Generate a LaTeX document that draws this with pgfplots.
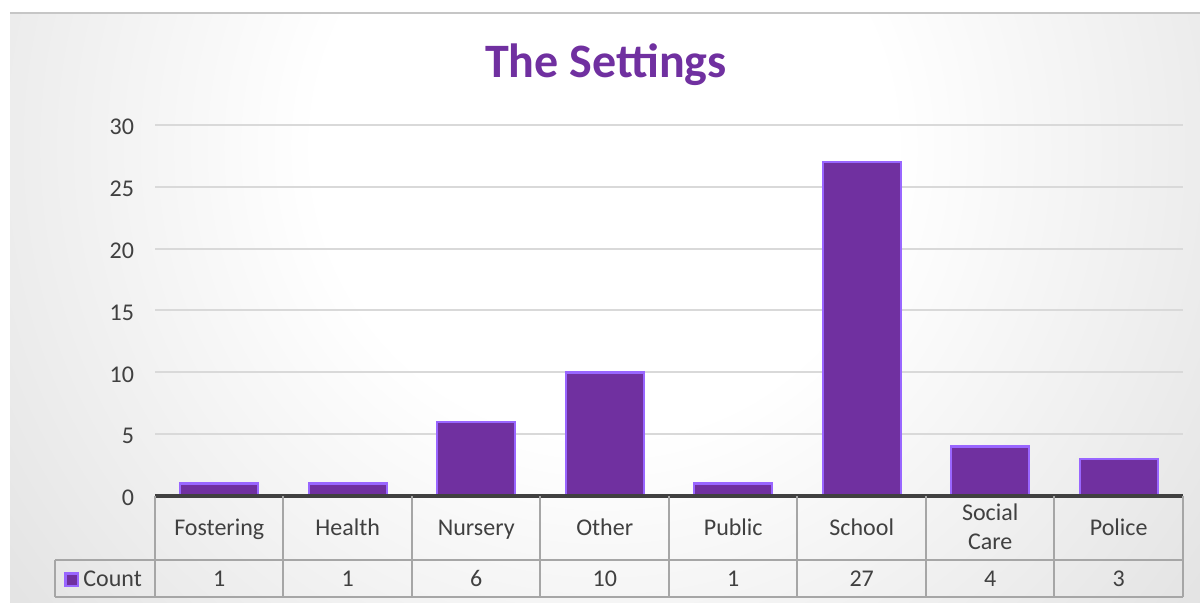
\documentclass[border=0pt]{standalone}
\usepackage{pgfplots}
\pgfplotsset{compat=1.18}
\usepackage{fontspec}
\setmainfont{Carlito}
\definecolor{barfill}{HTML}{7030A0}
\definecolor{baredge}{HTML}{9966FF}
\definecolor{txt}{HTML}{404040}
\definecolor{tline}{HTML}{A6A6A6}
\definecolor{gridc}{HTML}{D9D9D9}
\pgfdeclareradialshading{bgshade}{\pgfpointorigin}{color(0bp)=(white); color(9bp)=(white); color(29bp)=(gray!30); color(37bp)=(gray!42); color(50bp)=(gray!55)}

\begin{document}
\begin{tikzpicture}
\useasboundingbox (0,0) rectangle (600pt,301.5pt);
\fill[white] (0,0) rectangle (600pt,301.5pt);
\begin{scope}
\clip (5pt,0) rectangle (600pt,295pt);
\shade[shading=bgshade] (302pt,228pt) circle (400pt);
\end{scope}
\draw[gray!45, line width=0.8pt] (5pt,295pt) -- (600pt,295pt);
\node[font=\bfseries\fontsize{24}{28}\selectfont, text=barfill] at (303pt,269pt) {The Settings};
\begin{axis}[
  at={(77.5pt,53.5pt)}, anchor=south west,
  scale only axis, width=514pt, height=185.5pt,
  xmin=-0.5, xmax=7.5, ymin=0, ymax=30,
  clip=false,
  axis line style={draw=none},
  tick style={draw=none},
  ytick={0,5,...,30},
  ymajorgrids, grid style={color=gridc, line width=1pt},
  /pgf/number format/assume math mode=true,
  yticklabel style={font=\fontsize{12}{14.5}\selectfont, text=txt, xshift=-7pt, yshift=-1pt},
  xtick={0,...,7},
  xticklabels={\strut Fostering,\strut Health,\strut Nursery,\strut Other,\strut Public,\strut School,{\strut Social\\\strut Care},\strut Police},
  xticklabel style={font=\fontsize{12}{14.5}\selectfont, text=txt, anchor=center, yshift=-12.5pt, align=center, inner sep=0pt},
  extra x ticks={0,...,7},
  extra x tick labels={\strut 1,\strut 1,\strut 6,\strut 10,\strut 1,\strut 27,\strut 4,\strut 3},
  extra x tick style={xticklabel style={yshift=-25.5pt}},
  ybar, bar width=39pt,
  legend style={at={(-0.0486,-0.226)}, anchor=center, draw=none, fill=none,
    font=\fontsize{12}{14.5}\selectfont, text=txt, inner sep=0pt,
    legend cell align=left},
  legend image code/.code={\draw[#1] (0pt,-3.2pt) rectangle (6.4pt,3.2pt);},
]
\addplot[fill=barfill, draw=baredge, line width=1.2pt] coordinates {
  (0,1) (1,1) (2,6) (3,10) (4,1) (5,27) (6,4) (7,3)};
\addlegendentry{Count}
% baseline
\draw[black!75, line width=1.6pt] (axis cs:-0.5,0) -- (axis cs:7.5,0);
% data table lines
\draw[tline, line width=1pt] (axis cs:-1.278,-5.175) -- (axis cs:7.5,-5.175);
\draw[tline, line width=1pt] (axis cs:-1.278,-8.167) -- (axis cs:7.5,-8.167);
\draw[tline, line width=1pt] (axis cs:-1.278,-5.175) -- (axis cs:-1.278,-8.167);
\draw[tline, line width=1pt] (axis cs:-0.5,0) -- (axis cs:-0.5,-8.167);
\draw[tline, line width=1pt] (axis cs:0.5,0) -- (axis cs:0.5,-8.167);
\draw[tline, line width=1pt] (axis cs:1.5,0) -- (axis cs:1.5,-8.167);
\draw[tline, line width=1pt] (axis cs:2.5,0) -- (axis cs:2.5,-8.167);
\draw[tline, line width=1pt] (axis cs:3.5,0) -- (axis cs:3.5,-8.167);
\draw[tline, line width=1pt] (axis cs:4.5,0) -- (axis cs:4.5,-8.167);
\draw[tline, line width=1pt] (axis cs:5.5,0) -- (axis cs:5.5,-8.167);
\draw[tline, line width=1pt] (axis cs:6.5,0) -- (axis cs:6.5,-8.167);
\draw[tline, line width=1pt] (axis cs:7.5,0) -- (axis cs:7.5,-8.167);
\end{axis}
\end{tikzpicture}
\end{document}
